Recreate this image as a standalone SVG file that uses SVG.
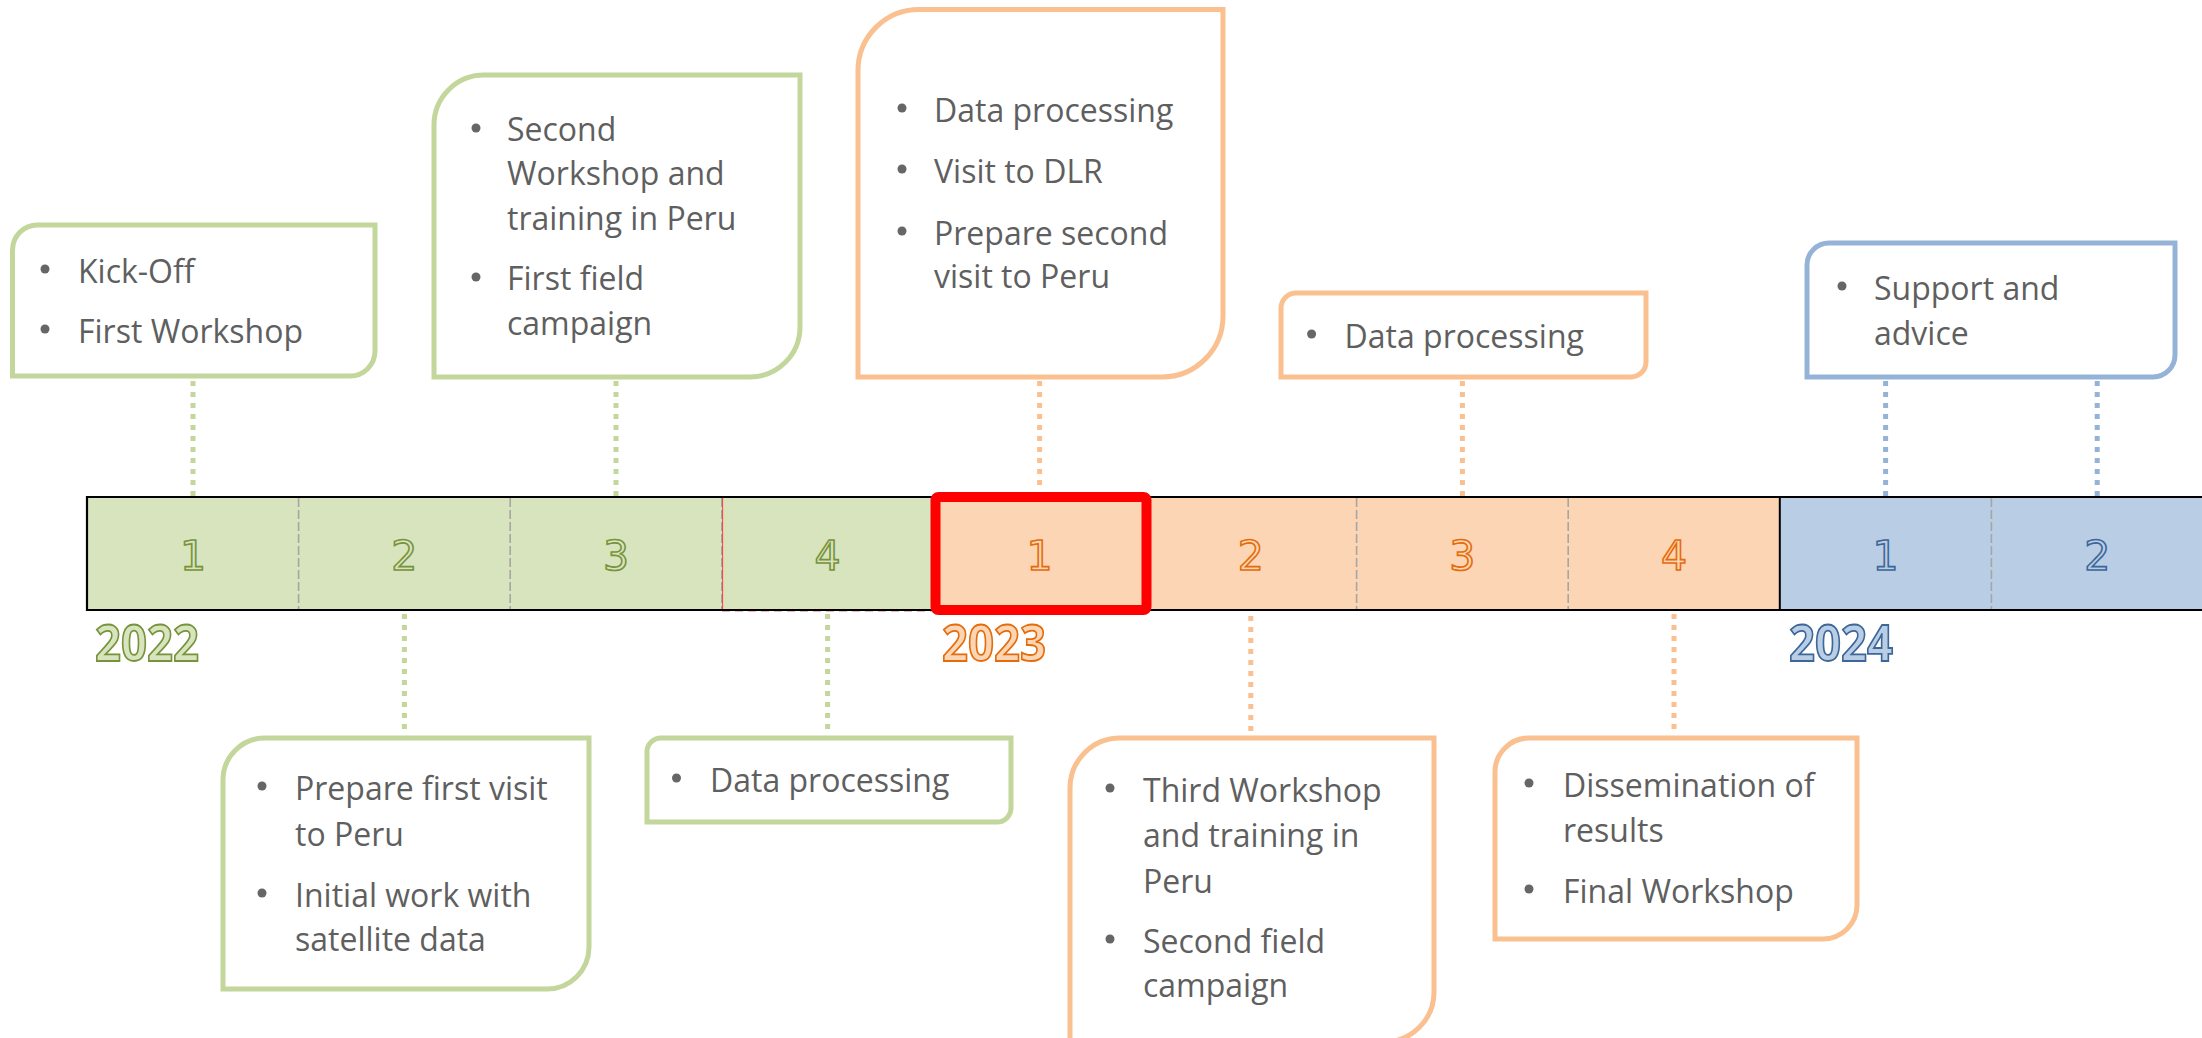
<svg xmlns="http://www.w3.org/2000/svg" width="2202" height="1038" viewBox="0 0 2202 1038">
  <style>
    .box { fill: #ffffff; stroke-width: 5; stroke-linejoin: miter; }
    .g { stroke: #C3D69B; }
    .o { stroke: #FAC090; }
    .b { stroke: #95B3D7; }
    .txt { font-family: "Open Sans", "Noto Sans", sans-serif; font-size: 32px; fill: #5f5f5f; }
    .dot { fill: #666666; }
    .conn { stroke-width: 5; stroke-dasharray: 5 6; fill: none; }
    .qnum { font-family: "DejaVu Sans", sans-serif; font-size: 41px; text-anchor: middle; stroke-width: 1.6; }
    .year { font-family: "Open Sans", "Liberation Sans", sans-serif; font-weight: bold; font-size: 51px; stroke-width: 1.8; }
    .div { stroke: #A6A6A6; stroke-width: 1.6; stroke-dasharray: 9 3; }
  </style>

  <!-- timeline bar: quarters of 2022, 2023, 2024 -->
  <g id="timeline">
    <rect x="87" y="497" width="846.4" height="113" fill="#D7E4BD"/>
    <rect x="933.4" y="497" width="846.4" height="113" fill="#FCD5B5"/>
    <rect x="1779.8" y="497" width="430" height="113" fill="#B9CDE5"/>
    <line class="div" x1="298.6" y1="498" x2="298.6" y2="609"/>
    <line class="div" x1="510.2" y1="498" x2="510.2" y2="609"/>
    <line class="div" x1="721.8" y1="498" x2="721.8" y2="609"/>
    <line x1="722.6" y1="498" x2="722.6" y2="609" stroke="#FF3B3B" stroke-width="1"/>
    <line x1="722" y1="611.5" x2="932" y2="611.5" stroke="#E07070" stroke-width="1" stroke-dasharray="8 5" opacity="0.5"/>
    <line class="div" x1="1356.6" y1="498" x2="1356.6" y2="609"/>
    <line class="div" x1="1568.2" y1="498" x2="1568.2" y2="609"/>
    <line class="div" x1="1991.4" y1="498" x2="1991.4" y2="609"/>
    <line x1="1779.8" y1="497" x2="1779.8" y2="610" stroke="#000" stroke-width="2"/>
    <path d="M2210 497 H87 V610 H2210" fill="none" stroke="#000" stroke-width="2.2"/>

    <g class="qnum">
      <text x="193" y="570" fill="#D7E4BD" stroke="#77933C">1</text>
      <text x="404.4" y="570" fill="#D7E4BD" stroke="#77933C">2</text>
      <text x="616" y="570" fill="#D7E4BD" stroke="#77933C">3</text>
      <text x="827.6" y="570" fill="#D7E4BD" stroke="#77933C">4</text>
      <text x="1039.6" y="570" fill="#FCD5B5" stroke="#E46C0A">1</text>
      <text x="1250.8" y="570" fill="#FCD5B5" stroke="#E46C0A">2</text>
      <text x="1462.4" y="570" fill="#FCD5B5" stroke="#E46C0A">3</text>
      <text x="1674" y="570" fill="#FCD5B5" stroke="#E46C0A">4</text>
      <text x="1885.6" y="570" fill="#B9CDE5" stroke="#3D6799">1</text>
      <text x="2097.2" y="570" fill="#B9CDE5" stroke="#3D6799">2</text>
    </g>

    <!-- current quarter highlight -->
    <rect x="935.5" y="497" width="211" height="113" rx="3" fill="none" stroke="#FF0000" stroke-width="10" stroke-linejoin="round"/>
  </g>

  <g id="years" class="year">
    <text x="95" y="661" textLength="104" lengthAdjust="spacingAndGlyphs" fill="#D7E4BD" stroke="#77933C">2022</text>
    <text x="942" y="661" textLength="104" lengthAdjust="spacingAndGlyphs" fill="#FCD5B5" stroke="#E46C0A">2023</text>
    <text x="1789" y="661" textLength="104" lengthAdjust="spacingAndGlyphs" fill="#B9CDE5" stroke="#3D6799">2024</text>
  </g>

  <!-- dotted leaders from boxes to quarters -->
  <g id="connectors">
    <line class="conn" stroke="#C3D69B" x1="193" y1="381" x2="193" y2="496"/>
    <line class="conn" stroke="#C3D69B" x1="616" y1="381" x2="616" y2="496"/>
    <line class="conn" stroke="#FAC090" x1="1039.6" y1="381" x2="1039.6" y2="491"/>
    <line class="conn" stroke="#FAC090" x1="1462.4" y1="381" x2="1462.4" y2="496"/>
    <line class="conn" stroke="#95B3D7" x1="1885.6" y1="381" x2="1885.6" y2="496"/>
    <line class="conn" stroke="#95B3D7" x1="2097.2" y1="381" x2="2097.2" y2="496"/>
    <line class="conn" stroke="#C3D69B" x1="404.4" y1="614" x2="404.4" y2="732"/>
    <line class="conn" stroke="#C3D69B" x1="827.6" y1="614" x2="827.6" y2="732"/>
    <line class="conn" stroke="#FAC090" x1="1250.8" y1="616" x2="1250.8" y2="732"/>
    <line class="conn" stroke="#FAC090" x1="1674" y1="614" x2="1674" y2="732"/>
  </g>

  <g id="q1-2022">
    <path class="box g" d="M37.5 225 H375 V351 A25 25 0 0 1 350 376 H12.5 V250 A25 25 0 0 1 37.5 225 Z"/>
    <circle class="dot" cx="45" cy="269" r="4.5"/>
    <text class="txt" x="78" y="283">Kick-Off</text>
    <circle class="dot" cx="45" cy="329" r="4.5"/>
    <text class="txt" x="78" y="343">First Workshop</text>
  </g>

  <g id="q3-2022">
    <path class="box g" d="M484 75 H800 V327 A50 50 0 0 1 750 377 H434 V125 A50 50 0 0 1 484 75 Z"/>
    <circle class="dot" cx="476" cy="128" r="4.5"/>
    <text class="txt" x="507" y="141">Second</text>
    <text class="txt" x="507" y="185">Workshop and</text>
    <text class="txt" x="507" y="230">training in Peru</text>
    <circle class="dot" cx="476" cy="277" r="4.5"/>
    <text class="txt" x="507" y="290">First field</text>
    <text class="txt" x="507" y="335">campaign</text>
  </g>

  <g id="q1-2023">
    <path class="box o" d="M919 9.5 H1223 V316 A61 61 0 0 1 1162 377 H858 V70.5 A61 61 0 0 1 919 9.5 Z"/>
    <circle class="dot" cx="902" cy="108" r="4.5"/>
    <text class="txt" x="934" y="122">Data processing</text>
    <circle class="dot" cx="902" cy="169" r="4.5"/>
    <text class="txt" x="934" y="183">Visit to DLR</text>
    <circle class="dot" cx="902" cy="231" r="4.5"/>
    <text class="txt" x="934" y="245">Prepare second</text>
    <text class="txt" x="934" y="288">visit to Peru</text>
  </g>

  <g id="q3-2023">
    <path class="box o" d="M1296 293 H1646 V362 A15 15 0 0 1 1631 377 H1281 V308 A15 15 0 0 1 1296 293 Z"/>
    <circle class="dot" cx="1311.6" cy="334" r="4.5"/>
    <text class="txt" x="1344.6" y="348">Data processing</text>
  </g>

  <g id="h1-2024">
    <path class="box b" d="M1829 243 H2175 V355 A22 22 0 0 1 2153 377 H1807 V265 A22 22 0 0 1 1829 243 Z"/>
    <circle class="dot" cx="1842" cy="286" r="4.5"/>
    <text class="txt" x="1874" y="300">Support and</text>
    <text class="txt" x="1874" y="345">advice</text>
  </g>

  <g id="q2-2022">
    <path class="box g" d="M265 738 H589 V947 A42 42 0 0 1 547 989 H223 V780 A42 42 0 0 1 265 738 Z"/>
    <circle class="dot" cx="262" cy="786" r="4.5"/>
    <text class="txt" x="295" y="800">Prepare first visit</text>
    <text class="txt" x="295" y="846">to Peru</text>
    <circle class="dot" cx="262" cy="893" r="4.5"/>
    <text class="txt" x="295" y="907">Initial work with</text>
    <text class="txt" x="295" y="951">satellite data</text>
  </g>

  <g id="q4-2022">
    <path class="box g" d="M661 738 H1011 V808 A14 14 0 0 1 997 822 H647 V752 A14 14 0 0 1 661 738 Z"/>
    <circle class="dot" cx="676.5" cy="778" r="4.5"/>
    <text class="txt" x="710" y="792">Data processing</text>
  </g>

  <g id="q2-2023">
    <path class="box o" d="M1120 738 H1434 V992 A50 50 0 0 1 1384 1042 H1070 V788 A50 50 0 0 1 1120 738 Z"/>
    <circle class="dot" cx="1110" cy="788" r="4.5"/>
    <text class="txt" x="1143" y="802">Third Workshop</text>
    <text class="txt" x="1143" y="847">and training in</text>
    <text class="txt" x="1143" y="893">Peru</text>
    <circle class="dot" cx="1110" cy="939" r="4.5"/>
    <text class="txt" x="1143" y="953">Second field</text>
    <text class="txt" x="1143" y="997">campaign</text>
  </g>

  <g id="q4-2023">
    <path class="box o" d="M1529 738 H1857 V905 A34 34 0 0 1 1823 939 H1495 V772 A34 34 0 0 1 1529 738 Z"/>
    <circle class="dot" cx="1529" cy="783" r="4.5"/>
    <text class="txt" x="1563" y="797">Dissemination of</text>
    <text class="txt" x="1563" y="842">results</text>
    <circle class="dot" cx="1529" cy="889" r="4.5"/>
    <text class="txt" x="1563" y="903">Final Workshop</text>
  </g>
</svg>
